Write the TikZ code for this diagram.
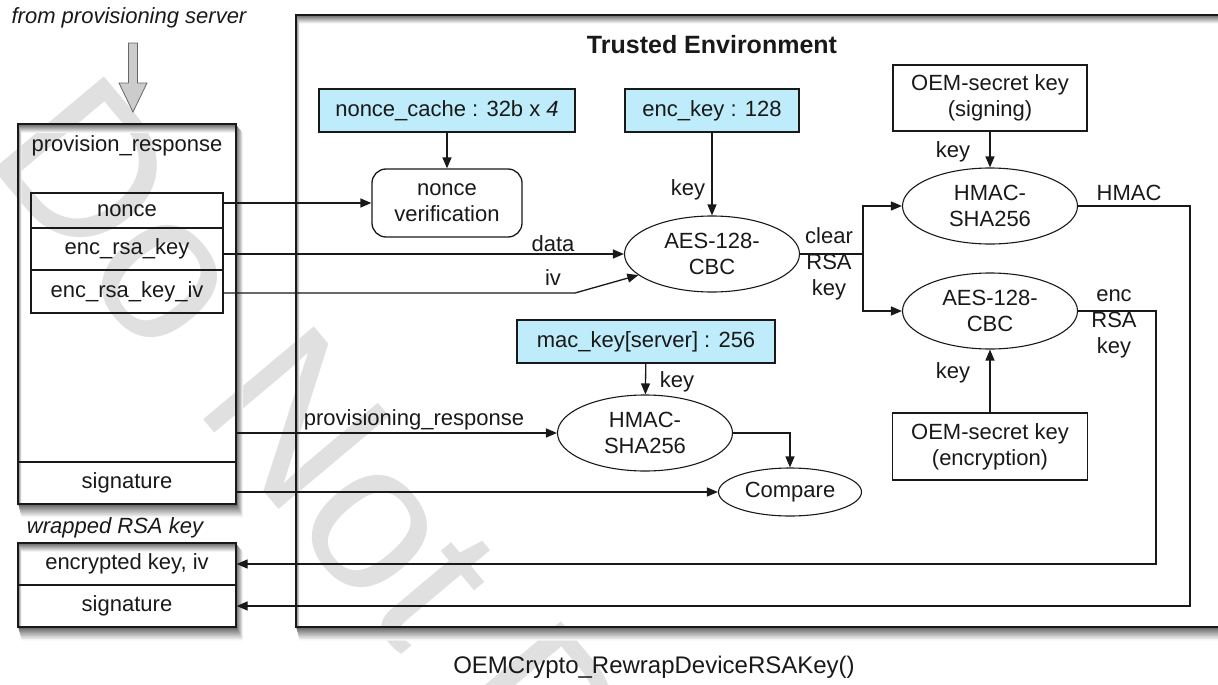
\documentclass[tikz,border=0pt]{standalone}
\usepackage{fontspec}
\setmainfont{Liberation Sans}
\usetikzlibrary{arrows.meta,shapes.geometric,calc}
\definecolor{lblue}{RGB}{190,236,250}
\definecolor{wm}{RGB}{224,224,224}
\definecolor{lc}{RGB}{25,25,25}
\begin{document}
\begin{tikzpicture}[x=1pt,y=-1pt,
  every node/.style={font=\fontsize{22}{26}\selectfont, text=lc},
  box/.style={draw=lc, line width=1.3pt, rectangle, inner sep=0pt, align=center},
  keybox/.style={box, fill=lblue, minimum height=43pt},
  oembox/.style={box, minimum width=195pt, minimum height=67pt},
  ell/.style={draw=lc, line width=1.1pt, ellipse, inner sep=0pt, align=center, minimum width=175pt, minimum height=76pt},
  fld/.style={box, minimum width=192pt},
  arr/.style={draw=lc, line width=1.3pt, -{Triangle[length=11pt,width=9pt]}},
  wire/.style={draw=lc, line width=1.3pt},
  lbl/.style={inner sep=0pt, align=center},
]
\useasboundingbox (0,0) rectangle (1218,685);

% watermark (behind everything)
\begin{scope}
\clip (0,0) rectangle (1218,685);
\node[text=wm, font=\fontsize{210}{210}\selectfont, rotate=-50, anchor=base west, inner sep=0pt] (wmark) at (-18,156) {Do Not Distribute};
\end{scope}

% soft shadows of the three outer boxes (outside the boxes only)
\foreach \i in {9,8,...,1} {
  \pgfmathtruncatemacro\sh{66-7*\i}
  \fill[black!\sh, even odd rule] (296+0.4*\i, 15+\i) rectangle (1260, 627+1.5*\i) (296,15) rectangle (1260,627);
  \fill[black!\sh, even odd rule] (18+0.4*\i, 124+\i) rectangle (236+0.8*\i, 504+1.5*\i) (18,124) rectangle (236,504);
  \fill[black!\sh, even odd rule] (18+0.4*\i, 543+\i) rectangle (236+0.8*\i, 627+1.5*\i) (18,543) rectangle (236,627);
}

% trusted environment
\node[box, minimum width=964pt, minimum height=612pt] (te) at (778,321) {};
\node[font=\bfseries\fontsize{25}{30}\selectfont] (title) at (712,45) {Trusted Environment};

% left: provision_response
\node[font=\itshape\fontsize{22}{26}\selectfont] (from) at (129,18) {from provisioning server};
\draw[draw=black!60, fill=black!20, line width=0.8pt] (128.5,43) -- (137.5,43) -- (137.5,83) -- (147,83) -- (133,112) -- (119,83) -- (128.5,83) -- cycle;
\node[box, minimum width=218pt, minimum height=380pt] (prov) at (127,314) {};
\node (provt) at (127,146) {provision\_response};
\node[fld, minimum height=35pt] (fnonce) at (127,210.5) {nonce};
\node[fld, minimum height=42pt] (fenc) at (127,249) {enc\_rsa\_key};
\node[fld, minimum height=43pt] (fiv) at (127,291.5) {enc\_rsa\_key\_iv};
\node[box, minimum width=218pt, minimum height=42pt] (psig) at (127,483) {signature};

% wrapped RSA key
\node[font=\itshape\fontsize{22}{26}\selectfont] (wlbl) at (115,528) {wrapped RSA key};
\node[box, minimum width=218pt, minimum height=84pt] (wrap) at (127,585) {};
\node[box, minimum width=218pt, minimum height=42pt] (wenc) at (127,564) {encrypted key, iv};
\node[box, minimum width=218pt, minimum height=42pt] (wsig) at (127,606) {signature};

% trusted internals
\node[keybox, minimum width=256pt] (ncache) at (447,110.5) {nonce\_cache : 32b x \textit{4}};
\node[box, rounded corners=14pt, minimum width=150pt, minimum height=68pt] (nv) at (447,203) {nonce\\verification};
\node[keybox, minimum width=174pt] (ek) at (712,110.5) {enc\_key : 128};
\node[ell] (aes1) at (712,254) {AES-128-\\CBC};
\node[box, minimum width=194pt, minimum height=66pt] (oems) at (990,98) {OEM-secret key\\(signing)};
\node[ell] (hm1) at (990,206) {HMAC-\\SHA256};
\node[ell] (aes2) at (990,311) {AES-128-\\CBC};
\node[oembox] (oeme) at (990,446.5) {OEM-secret key\\(encryption)};
\node[keybox, minimum width=258pt] (mk) at (646,341.5) {mac\_key[server] : 256};
\node[ell] (hm2) at (645,433) {HMAC-\\SHA256};
\node[ell, minimum width=143pt, minimum height=48pt] (cmp) at (790,492) {Compare};

% labels
\node[lbl] (lkey1) at (688,190) {key};
\node[lbl] (lkey2) at (953,152) {key};
\node[lbl] (lkey3) at (953,373) {key};
\node[lbl] (lkey4) at (677,382) {key};
\node[lbl] (ldata) at (553,244) {data};
\node[lbl] (liv) at (553,278) {iv};
\node[lbl] (lclear) at (829,264) {clear\\RSA\\key};
\node[lbl] (lhmac) at (1129,193) {HMAC};
\node[lbl] (lenc) at (1114,324) {enc\\RSA\\key};
\node[lbl] (lpr) at (414,420) {provisioning\_response};
\node[font=\fontsize{24}{28}\selectfont] (cap) at (654,667) {OEMCrypto\_RewrapDeviceRSAKey()};

% connectors
\coordinate (ivbend) at (575,293);
\coordinate (split) at (863,254);
\coordinate (rx1) at (1156,0);
\coordinate (rx2) at (1190,0);
\draw[arr] (ncache) -- (nv);
\draw[arr] (ek) -- (aes1);
\draw[arr] (oems) -- (hm1);
\draw[arr] (oeme) -- (aes2);
\draw[arr] (mk) -- (hm2);
\draw[arr] (fnonce.east |- nv.west) -- (nv.west);
\draw[arr] (fenc.east |- aes1.west) -- (aes1.west);
\draw[arr] (fiv.east |- ivbend) -- (ivbend) -- (aes1.196);
\draw[arr] (prov.east |- hm2.west) -- (hm2.west);
\draw[arr] (psig.east |- cmp.west) -- (cmp.west);
\draw[arr] (hm2.east) -| (cmp.north);
\draw[wire] (aes1.east) -- (split);
\draw[arr] (split) |- (hm1.west);
\draw[arr] (split) |- (aes2.west);
\draw[arr] (aes2.east) -- (aes2.east -| rx1) -- (rx1 |- wenc.east) -- (wenc.east);
\draw[arr] (hm1.east) -- (hm1.east -| rx2) -- (rx2 |- wsig.east) -- (wsig.east);
\end{tikzpicture}
\end{document}
